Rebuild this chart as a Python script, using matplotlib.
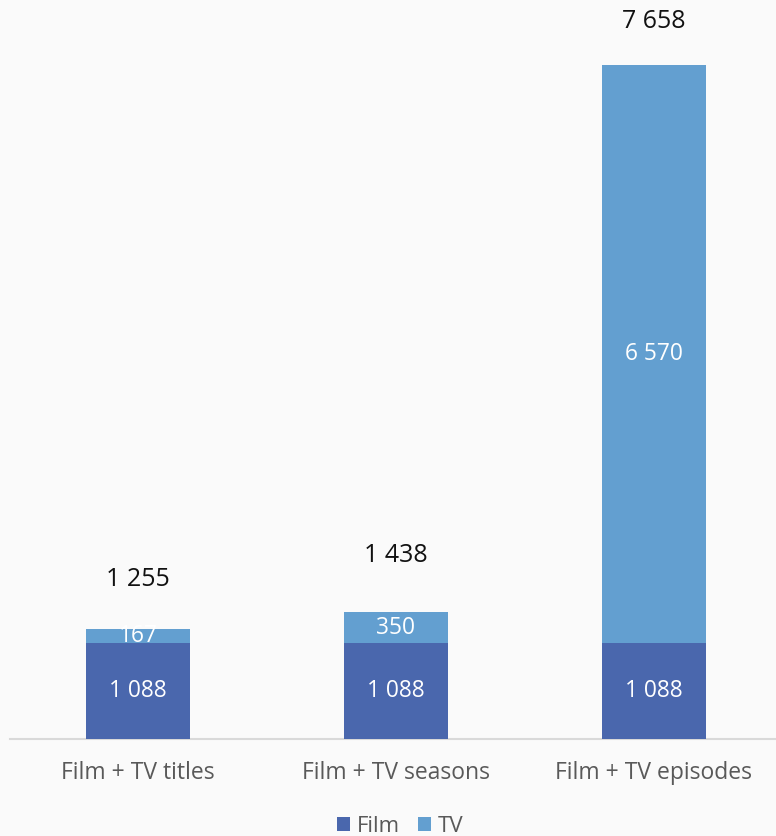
import matplotlib.pyplot as plt
import numpy as np

categories = ['Film + TV titles', 'Film + TV seasons', 'Film + TV episodes']
film = [1088, 1088, 1088]
tv = [167, 350, 6570]
# gap (px) between bar top and its total label
total_gap = [49, 57, 43]

film_color = '#4a67ad'
tv_color = '#639fd0'
bg = '#fafafa'

plt.rcParams['font.family'] = ['Open Sans', 'DejaVu Sans']

fig = plt.figure(figsize=(7.76, 8.36), dpi=100, facecolor=bg)
ax = fig.add_axes([10 / 776, 97 / 836, 766 / 776, 739 / 836], facecolor=bg)

x = np.arange(len(categories))
film = np.array(film)
tv = np.array(tv)
totals = film + tv

# film bars sit above the TV labels so a label spilling down gets covered
b1 = ax.bar(x, film, width=0.4, color=film_color, label='Film', zorder=3)
b2 = ax.bar(x, tv, width=0.4, bottom=film, color=tv_color, label='TV', zorder=1)

fmt = lambda v: f'{v:,}'.replace(',', ' ')

for i in range(len(x)):
    ax.text(x[i], film[i] / 2, fmt(film[i]), ha='center', va='center',
            color='white', fontsize=16.4, zorder=4)
    ax.text(x[i], film[i] + tv[i] / 2, fmt(tv[i]), ha='center', va='center',
            color='white', fontsize=16.4, zorder=2)
    ax.annotate(fmt(totals[i]), (x[i], totals[i]), xytext=(0, total_gap[i] * 0.72),
                textcoords='offset points', ha='center', va='center',
                color='#111111', fontsize=18)

ax.set_ylim(0, 739 / 674 * 7658)
ax.set_xlim(-0.496, 2.473)
ax.set_yticks([])
ax.set_xticks(x)
ax.set_xticklabels(categories, fontsize=16.5, color='#595959')
ax.tick_params(axis='x', length=0, pad=16)
for s in ['top', 'right', 'left']:
    ax.spines[s].set_visible(False)
ax.spines['bottom'].set_color('#d9d9d9')
ax.spines['bottom'].set_linewidth(1.5)

fig.legend(handles=[b1, b2], loc='center', bbox_to_anchor=(400 / 776, 10 / 836),
           ncol=2, frameon=False, fontsize=16, handlelength=0.6, handleheight=0.6,
           handletextpad=0.3, columnspacing=0.8, labelcolor='#595959')

fig.savefig('out.png', dpi=100, facecolor=bg)
